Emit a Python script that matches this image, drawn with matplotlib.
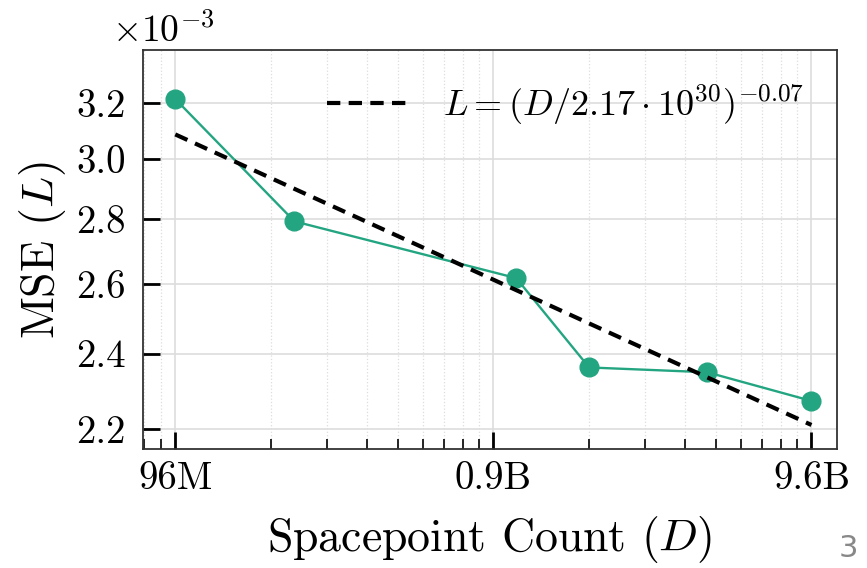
import numpy as np
import matplotlib
matplotlib.use("Agg")
import matplotlib.pyplot as plt
from matplotlib.ticker import FixedLocator, FuncFormatter, LogLocator, NullLocator

plt.rcParams["font.family"] = "serif"
plt.rcParams["font.serif"] = ["cmr10"]
plt.rcParams["mathtext.fontset"] = "cm"
plt.rcParams["axes.unicode_minus"] = False
plt.rcParams["axes.formatter.use_mathtext"] = True

# --- data
spacepoints = [1.0e8, 2.37e8, 1.18e9, 2.0e9, 4.7e9, 1.0e10]
mse = [3.214e-3, 2.793e-3, 2.617e-3, 2.362e-3, 2.349e-3, 2.273e-3]

x_ticks = [1e8, 1e9, 1e10]
x_ticklabels = ["96M", "0.9B", "9.6B"]
y_ticks = [2.2e-3, 2.4e-3, 2.6e-3, 2.8e-3, 3.0e-3, 3.2e-3]

green = "#24a582"

# power-law fit in log-log space
slope, icpt = np.polyfit(np.log10(spacepoints), np.log10(mse), 1)
fit_x = np.array([spacepoints[0], spacepoints[-1]])
fit_y = 10 ** (icpt + slope * np.log10(fit_x))

fig = plt.figure(figsize=(8.67, 5.68), dpi=100)
ax = fig.add_axes([0.1646, 0.2095, 0.8004, 0.7025])

ax.plot(spacepoints, mse, "-o", color=green, lw=1.7, ms=13.5, zorder=3)
ax.plot(fit_x, fit_y, "--", color="black", lw=3.0, dashes=(3.2, 2.0), zorder=4,
        label=r"$L = (D/2.17\cdot10^{30})^{-0.07}$")

ax.set_xscale("log")
ax.set_yscale("log")
ax.set_xlim(7.9e7, 1.2e10)
ax.set_ylim(2.151e-3, 3.40e-3)

ax.xaxis.set_major_locator(FixedLocator(x_ticks))
ax.xaxis.set_major_formatter(FuncFormatter(lambda v, p: x_ticklabels[x_ticks.index(v)] if v in x_ticks else ""))
ax.xaxis.set_minor_locator(LogLocator(base=10, subs=np.arange(2, 10)))
ax.xaxis.set_minor_formatter(FuncFormatter(lambda v, p: ""))
ax.yaxis.set_major_locator(FixedLocator(y_ticks))
ax.yaxis.set_major_formatter(FuncFormatter(lambda v, p: "%.1f" % (v * 1e3)))
ax.yaxis.set_minor_locator(NullLocator())

ax.tick_params(which="major", direction="in", length=12, width=2.0, labelsize=28)
ax.tick_params(axis="x", which="major", pad=9)
ax.tick_params(axis="y", which="major", pad=12)
ax.tick_params(which="minor", direction="in", length=7, width=1.2)

ax.grid(True, which="major", color="#dddddd", lw=1.2, zorder=0)
ax.grid(True, which="minor", axis="x", color="#dddddd", lw=0.9, ls=":", zorder=0)
ax.set_axisbelow(True)

for s in ax.spines.values():
    s.set_linewidth(1.3)
    s.set_color("#333333")

ax.set_xlabel(r"Spacepoint Count $(D)$", fontsize=33, labelpad=12)
ax.set_ylabel(r"MSE $(L)$", fontsize=33, labelpad=6)
# multiplier shown above the y axis
ax.text(-0.044, 1.02, r"$\times10^{-3}$", transform=ax.transAxes, fontsize=27,
        ha="left", va="baseline")

ax.legend(loc="upper right", frameon=False, fontsize=26, handlelength=2.3,
          handletextpad=0.9, borderaxespad=0.5)

fig.text(0.978, 0.035, "3", fontsize=22, color="#888888", family="DejaVu Sans",
         ha="center", va="center")

fig.savefig("out.png", dpi=100)
